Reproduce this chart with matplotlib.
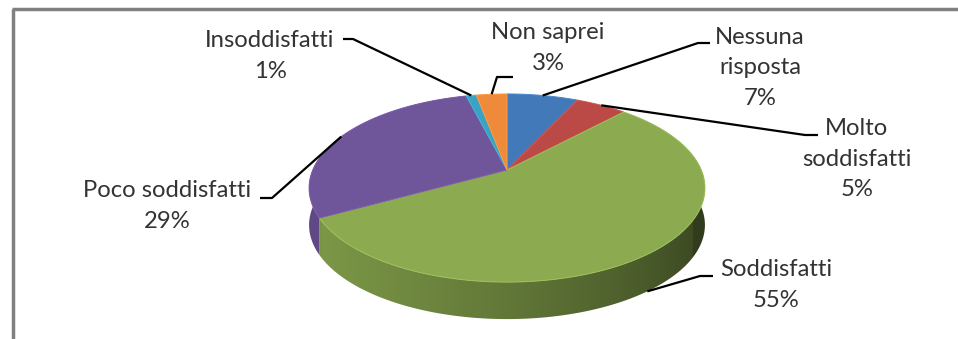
import numpy as np
import matplotlib.pyplot as plt
from matplotlib.patches import Polygon
from matplotlib.colors import to_rgb

# survey answers, clockwise from the top of the pie
categories = ['Nessuna\nrisposta', 'Molto\nsoddisfatti', 'Soddisfatti',
              'Poco soddisfatti', 'Insoddisfatti', 'Non saprei']
values = [7, 5, 55, 29, 1, 3]
colors = ['#4279b9', '#bb4a47', '#8cab50', '#6f559a', '#3aa3c4', '#ee8a3a']

# label centre and leader elbow (horizontal stub), pixel units
label_pos = [(760, 68), (857, 159), (776, 285), (167, 206), (270, 56), (548, 48)]
stubs = [((710, 43), (698, 43)), ((818, 135), (805, 135)), ((713, 276), (700, 276)),
         ((260, 198), (272, 198)), ((343, 39), (353, 39)), ((513, 77), (497, 77))]

W, H = 958, 339
cx, cy = 507, 170          # apex of the pie
A, B, dist = 1014, 473, 5.22
depth = 37


def proj(t, r=1.0):
    u, v = r * np.sin(t), r * np.cos(t)
    return cx + A * u / (dist + v), cy - B * v / (dist + v)


def side_k(t):
    # light coming from the left, a little in front
    light = np.array([-1.0, -0.3]) / np.hypot(1.0, 0.3)
    return 0.62 + 0.27 * (np.sin(t) * light[0] + np.cos(t) * light[1])


def shade(c, k):
    return np.clip(np.outer(np.atleast_1d(k), to_rgb(c)), 0, 1)


fig = plt.figure(figsize=(W / 100, H / 100), dpi=100)
ax = fig.add_axes([0, 0, 1, 1])
ax.set_xlim(0, W)
ax.set_ylim(H, 0)
ax.axis('off')

fracs = np.array(values) / sum(values)
edges = np.concatenate([[0], np.cumsum(fracs)]) * 2 * np.pi

# brightness of the wall per screen column (front half of the rim)
tf = np.linspace(0.45 * np.pi, 1.55 * np.pi, 600)
xf, _ = proj(tf)
cols = np.arange(W) + 0.5
kcol = np.interp(cols, xf[::-1], side_k(tf)[::-1])

# side wall: one polygon per slice, filled with a horizontal gradient
for i, col in enumerate(colors):
    ts = np.linspace(edges[i], edges[i + 1], max(6, values[i] * 8))
    xs, ys = proj(ts)
    if np.cos(ts).min() > 0.2:
        continue
    pts = list(zip(xs, ys)) + list(zip(xs[::-1], ys[::-1] + depth))
    poly = Polygon(pts, closed=True, facecolor='none', edgecolor='none')
    ax.add_patch(poly)
    grad = shade(col, kcol).reshape(1, W, 3)
    im = ax.imshow(grad, extent=(0, W, H, 0), aspect='auto', interpolation='bilinear', zorder=2)
    im.set_clip_path(poly)

# top face
for i, col in enumerate(colors):
    ts = np.linspace(edges[i], edges[i + 1], max(4, int(values[i] * 6)))
    xs, ys = proj(ts)
    pts = [(cx, cy)] + list(zip(xs, ys))
    ax.add_patch(Polygon(pts, closed=True, facecolor=col,
                         edgecolor=shade(col, 1.12)[0], lw=0.7, zorder=3))

# labels and leader lines
for i, name in enumerate(categories):
    tm = 0.5 * (edges[i] + edges[i + 1])
    px, py = proj(tm)
    if np.cos(tm) < -0.5:
        py += depth
    (sx0, sy0), (sx1, sy1) = stubs[i]
    ax.plot([sx0, sx1, px], [sy0, sy1, py], color='black', lw=1.6, zorder=4,
            solid_capstyle='butt')
    lx, ly = label_pos[i]
    ax.text(lx, ly, f'{name}\n{values[i]}%', ha='center', va='center',
            fontsize=17.2, family='Lato', color='#333333', linespacing=1.55, zorder=5)

# chart frame
ax.plot([12, W], [9, 9], color='#808080', lw=2.5, solid_capstyle='butt')
ax.plot([13, 13], [9, H], color='#808080', lw=2.5, solid_capstyle='butt')

fig.savefig('out.png', dpi=100)
